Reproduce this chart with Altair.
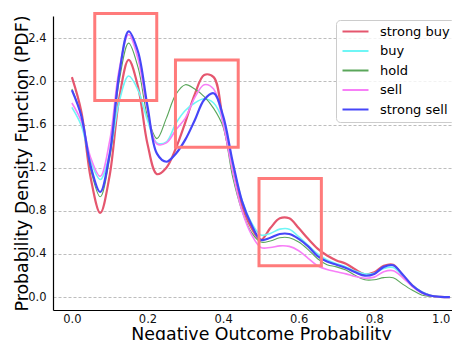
import altair as alt
import pandas as pd

# x grid of the density curves
x_vals = [0.0, 0.025, 0.05, 0.075, 0.1, 0.125, 0.15, 0.175, 0.2, 0.225,
          0.25, 0.275, 0.3, 0.325, 0.35, 0.375, 0.4, 0.425, 0.45, 0.475,
          0.5, 0.525, 0.55, 0.575, 0.6, 0.625, 0.65, 0.675, 0.7, 0.725,
          0.75, 0.775, 0.8, 0.825, 0.85, 0.875, 0.9, 0.925, 0.95, 0.975, 1.0]

strong_buy = [2.04, 1.72, 1.10, 0.78, 1.13, 1.84, 2.20, 1.95, 1.42, 1.14,
              1.20, 1.38, 1.62, 1.88, 2.06, 2.04, 1.63, 1.20, 0.85, 0.64,
              0.53, 0.64, 0.73, 0.73, 0.64, 0.54, 0.45, 0.385, 0.34, 0.31,
              0.255, 0.21, 0.23, 0.29, 0.30, 0.20, 0.11, 0.045, 0.012, 0.002, 0.0]
buy = [1.76, 1.59, 1.26, 1.09, 1.33, 1.81, 2.05, 1.92, 1.64, 1.43,
       1.44, 1.61, 1.73, 1.80, 1.84, 1.80, 1.63, 1.24, 0.90, 0.69,
       0.575, 0.59, 0.63, 0.63, 0.56, 0.48, 0.40, 0.345, 0.31, 0.28,
       0.24, 0.215, 0.22, 0.265, 0.275, 0.20, 0.11, 0.05, 0.015, 0.003, 0.0]
hold = [1.93, 1.68, 1.18, 0.93, 1.29, 2.00, 2.355, 2.13, 1.68, 1.47,
        1.66, 1.88, 1.97, 1.93, 1.86, 1.75, 1.58, 1.12, 0.80, 0.60,
        0.51, 0.52, 0.55, 0.55, 0.51, 0.44, 0.355, 0.30, 0.28, 0.25,
        0.20, 0.16, 0.16, 0.18, 0.18, 0.12, 0.065, 0.02, 0.005, 0.0, 0.0]
sell = [1.80, 1.63, 1.29, 1.12, 1.45, 2.11, 2.435, 2.21, 1.73, 1.42,
        1.43, 1.55, 1.66, 1.85, 1.97, 1.93, 1.61, 1.17, 0.80, 0.58,
        0.46, 0.46, 0.475, 0.47, 0.43, 0.36, 0.29, 0.255, 0.235, 0.215,
        0.19, 0.175, 0.185, 0.235, 0.245, 0.18, 0.10, 0.04, 0.01, 0.002, 0.0]
strong_sell = [1.92, 1.68, 1.21, 0.975, 1.33, 2.06, 2.465, 2.275, 1.77, 1.33,
               1.255, 1.33, 1.46, 1.64, 1.83, 1.89, 1.68, 1.26, 0.89, 0.67,
               0.53, 0.55, 0.585, 0.585, 0.54, 0.47, 0.38, 0.33, 0.30, 0.27,
               0.23, 0.198, 0.215, 0.28, 0.295, 0.21, 0.11, 0.045, 0.012, 0.002, 0.0]

series_names = ["strong buy", "buy", "hold", "sell", "strong sell"]
series_values = [strong_buy, buy, hold, sell, strong_sell]
series_colors = ["#e5566e", "#6ff6f6", "#5aa65a", "#f77ff7", "#4646f8"]
series_widths = [2.2, 1.6, 1.1, 1.6, 2.2]

# highlight boxes (data coordinates)
box_x1 = [0.0605, 0.274, 0.495]
box_x2 = [0.2245, 0.44, 0.66]
box_y1 = [1.824, 1.39, 0.29]
box_y2 = [2.63, 2.20, 1.10]

rows = []
for name, vals in zip(series_names, series_values):
    for xv, yv in zip(x_vals, vals):
        rows.append({"x": xv, "y": yv, "series": name})
df = pd.DataFrame(rows)
boxes = pd.DataFrame({"x1": box_x1, "x2": box_x2, "y1": box_y1, "y2": box_y2})

FONT = "DejaVu Sans"

x_enc = alt.X("x:Q",
              scale=alt.Scale(domain=[-0.05, 1.0056], nice=False, zero=False),
              axis=alt.Axis(values=[0, 0.2, 0.4, 0.6, 0.8, 1.0], format=".1f",
                            title="Negative Outcome Probability",
                            titleFontSize=17.4, titleFontWeight="normal",
                            titleColor="black", titleX=208, titleY=29,
                            titleBaseline="alphabetic",
                            labelFontSize=11.5, labelColor="#111111",
                            labelPadding=3, labelFlush=6, ticks=False, tickSize=0,
                            domainColor="black", domainWidth=1.2, grid=False))
y_enc = alt.Y("y:Q",
              scale=alt.Scale(domain=[-0.12, 2.607], nice=False, zero=False),
              axis=alt.Axis(values=[0, 0.4, 0.8, 1.2, 1.6, 2.0, 2.4], format=".1f",
                            title="Probability Density Function (PDF)",
                            titleFontSize=17.4, titleFontWeight="normal",
                            titleColor="black", titleX=-26, titleY=147,
                            titleAngle=270, titleBaseline="alphabetic",
                            labelFontSize=11.5, labelColor="#111111",
                            labelPadding=7, ticks=False, tickSize=0,
                            domainColor="black", domainWidth=1.2,
                            grid=True, gridDash=[3, 2], gridColor="#b5b5b5",
                            gridWidth=0.9))

color_enc = alt.Color("series:N",
                      scale=alt.Scale(domain=series_names, range=series_colors),
                      legend=alt.Legend(title=None, orient="none",
                                        legendX=283, legendY=4,
                                        symbolType="M-1,0H4.2", symbolSize=100,
                                        symbolStrokeWidth=2,
                                        labelFontSize=13, labelColor="black",
                                        labelOffset=26, padding=5, rowPadding=5.5,
                                        fillColor="rgba(255,255,255,0.8)",
                                        strokeColor="#cccccc", cornerRadius=4))

layers = []
for name, w in zip(series_names, series_widths):
    layers.append(
        alt.Chart(df).transform_filter(alt.datum.series == name)
        .mark_line(strokeWidth=w, interpolate="catmull-rom")
        .encode(x=x_enc, y=y_enc, color=color_enc)
    )

rects = alt.Chart(boxes).mark_rect(fillOpacity=0, stroke="#ff7b7b",
                                   strokeWidth=3).encode(
    x="x1:Q", x2="x2:Q", y="y1:Q", y2="y2:Q")

chart = alt.layer(*layers, rects).properties(
    width=399, height=294,
    padding={"left": 45, "top": 8, "right": 0, "bottom": 30},
    autosize=alt.AutoSizeParams(type="none"),
).configure(font=FONT).configure_view(stroke=None)

chart.save("out.html", embed_options={"renderer": "svg", "actions": False})
